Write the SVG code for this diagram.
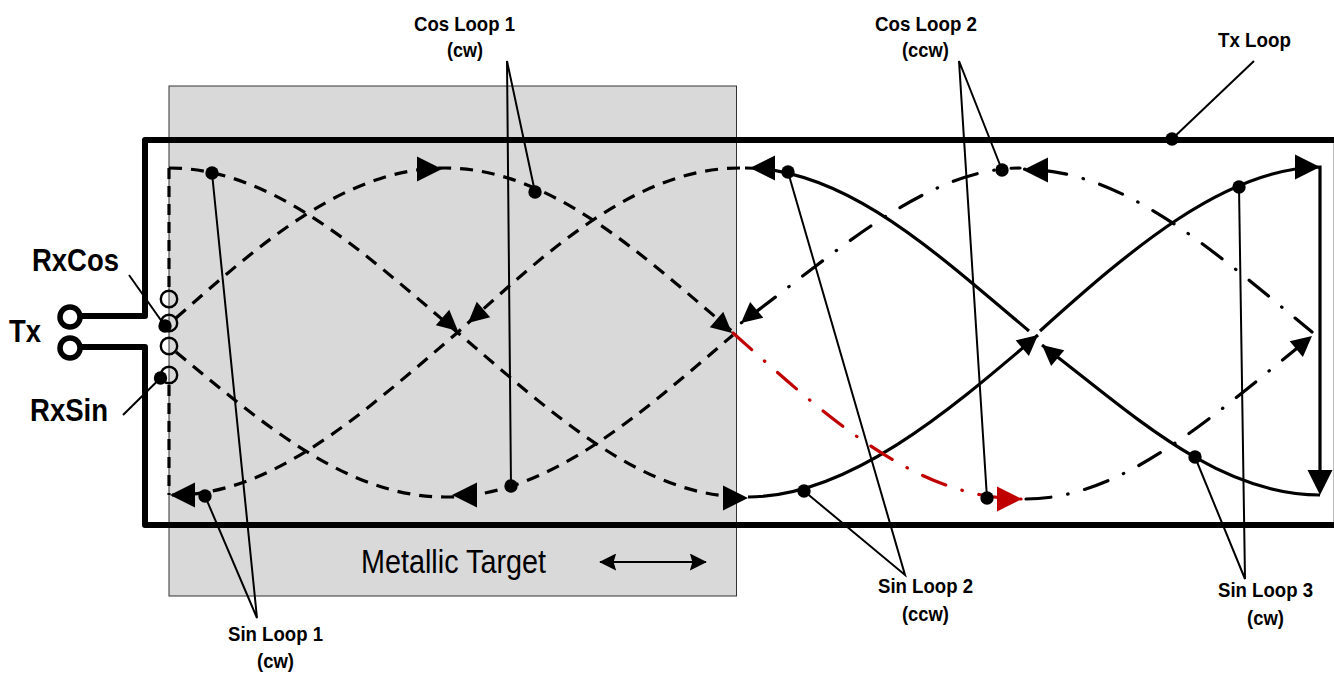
<svg xmlns="http://www.w3.org/2000/svg" xmlns:xlink="http://www.w3.org/1999/xlink" width="1334" height="673" viewBox="0 0 1334 673">
<style>
text{font-family:"Liberation Sans",Arial,sans-serif;fill:#000}
.lb{font-weight:bold;font-size:21px}
.big{font-weight:bold;font-size:32px}
.c{fill:none;stroke:#000;stroke-width:3.2}
.d{stroke-dasharray:13 9}
.dv{stroke-dasharray:11 7}
.dd{stroke-dasharray:25 17 .5 17;stroke-linecap:round}
.r{stroke:#c00000}
.t{fill:none;stroke:#000;stroke-width:6;stroke-linejoin:round}
.l{fill:none;stroke:#000;stroke-width:2}
.o{fill:none;stroke:#000;stroke-width:2.4}
</style>
<defs>
<polygon id="ah" points="0,0 -25,-12.5 -25,12.5"/>
<circle id="dot" r="6.700"/>
<marker id="sm" viewBox="0 0 10 10" refX="9.500" refY="5" markerWidth="8.500" markerHeight="8.500" orient="auto-start-reverse"><path d="M0,0 10,5 0,10 1.500,5z"/></marker>
</defs>
<g id="metallic-target">
<rect x="169" y="86" width="567.500" height="510" fill="#d9d9d9" stroke="#333" stroke-width="1"/>
<text x="361" y="573" font-size="33" textLength="185" lengthAdjust="spacingAndGlyphs">Metallic Target</text>
<line x1="600" y1="562" x2="706" y2="562" stroke="#000" stroke-width="2" marker-start="url(#sm)" marker-end="url(#sm)"/>
</g>
<g id="connectors">
<path class="c dv" d="M169,168V288M169,385V495"/>
<path class="c d" d="M169,168C273,168 363,252 457,332C551,412 641,497 745,497"/>
<path class="c d" d="M740,168C636,168 546,252 457,333C363,413 273,496 172,495"/>
<path class="c d" d="M176,318C259,245 345,168 445,168C549,168 639,252 733,332"/>
<path class="c d" d="M176,352C259,420 345,497 445,497C549,497 639,415 733,335"/>
<path class="c" d="M745,168C845,168 935,252 1029,331"/>
<path class="c" d="M1040,331C1130,250 1225,168 1320,167V480"/>
<path class="c" d="M1320,495C1216,495 1130,412 1042,345"/>
<path class="c" d="M748,497C849,497 950,410 1038,335"/>
<path class="c dd" style="stroke-dashoffset:-18" d="M741,323C830,258 925,168 1020,168"/>
<path class="c dd" style="stroke-dashoffset:-22" d="M1020,169C1124,168 1214,252 1312,332"/>
<path class="c dd r" d="M733,333C825,415 915,499 1022,499"/>
<path class="c dd" d="M1026,499C1124,499 1214,415 1312,336"/>
<line x1="1333.500" y1="140" x2="1333.500" y2="525" stroke="#bbb" stroke-width="1"/>
<use xlink:href="#ah" href="#ah" transform="translate(170,495) rotate(180)"/>
<use xlink:href="#ah" href="#ah" transform="translate(442,169)"/>
<use xlink:href="#ah" href="#ah" transform="translate(458,331) rotate(41) scale(.82)"/>
<use xlink:href="#ah" href="#ah" transform="translate(468,323) rotate(139) scale(.82)"/>
<use xlink:href="#ah" href="#ah" transform="translate(732,333) rotate(41) scale(.82)"/>
<use xlink:href="#ah" href="#ah" transform="translate(748,498)"/>
<use xlink:href="#ah" href="#ah" transform="translate(452,495) rotate(180)"/>
<use xlink:href="#ah" href="#ah" transform="translate(750,168) rotate(180)"/>
<use xlink:href="#ah" href="#ah" transform="translate(741,323) rotate(140) scale(.82)"/>
<use xlink:href="#ah" href="#ah" transform="translate(1023,170) rotate(180)"/>
<use xlink:href="#ah" href="#ah" fill="#c00000" transform="translate(1022,499)"/>
<use xlink:href="#ah" href="#ah" transform="translate(1320,167)"/>
<use xlink:href="#ah" href="#ah" transform="translate(1320,495) rotate(90)"/>
<use xlink:href="#ah" href="#ah" transform="translate(1038,335) rotate(-40) scale(.82)"/>
<use xlink:href="#ah" href="#ah" transform="translate(1042,345) rotate(-140) scale(.82)"/>
<use xlink:href="#ah" href="#ah" transform="translate(1312,336) rotate(-40) scale(.82)"/>
</g>
<g id="tx-loop">
<path class="t" d="M80,316H145V140H1334M80,347H145V525H1334"/>
<circle cx="70" cy="317" r="10" fill="#fff" stroke="#000" stroke-width="5.500"/>
<circle cx="70" cy="348" r="10" fill="#fff" stroke="#000" stroke-width="5.500"/>
<text class="big" x="9" y="342" textLength="32" lengthAdjust="spacingAndGlyphs">Tx</text>
</g>
<g id="rx-terminals">
<circle class="o" cx="169" cy="299" r="8.200"/>
<circle class="o" cx="169" cy="323" r="8.200"/>
<circle class="o" cx="169" cy="346" r="8.200"/>
<circle class="o" cx="169" cy="375" r="8.200"/>
</g>
<g id="rxcos-label">
<text class="big" x="32" y="271" textLength="87" lengthAdjust="spacingAndGlyphs">RxCos</text>
<line class="l" x1="129" y1="275" x2="165" y2="326"/><use xlink:href="#dot" href="#dot" x="165" y="326"/>
</g>
<g id="rxsin-label">
<text class="big" x="30" y="421" textLength="78" lengthAdjust="spacingAndGlyphs">RxSin</text>
<line class="l" x1="123" y1="415" x2="160.500" y2="378"/><use xlink:href="#dot" href="#dot" x="160.500" y="378"/>
</g>
<g id="cos-loop-1">
<text class="lb" x="414" y="31" textLength="101" lengthAdjust="spacingAndGlyphs">Cos Loop 1</text><text class="lb" x="447" y="57" textLength="36" lengthAdjust="spacingAndGlyphs">(cw)</text>
<path class="l" d="M535,192L507,61L511,486"/><use xlink:href="#dot" href="#dot" x="535" y="192"/><use xlink:href="#dot" href="#dot" x="511" y="486"/>
</g>
<g id="cos-loop-2">
<text class="lb" x="875" y="31" textLength="102" lengthAdjust="spacingAndGlyphs">Cos Loop 2</text><text class="lb" x="902" y="57" textLength="47" lengthAdjust="spacingAndGlyphs">(ccw)</text>
<path class="l" d="M1002,170L959,61L987,498"/><use xlink:href="#dot" href="#dot" x="1002" y="170"/><use xlink:href="#dot" href="#dot" x="987" y="498"/>
</g>
<g id="tx-loop-label">
<text class="lb" x="1218" y="47" textLength="73" lengthAdjust="spacingAndGlyphs">Tx Loop</text>
<line class="l" x1="1254" y1="61" x2="1172" y2="139"/><use xlink:href="#dot" href="#dot" x="1172" y="139"/>
</g>
<g id="sin-loop-1">
<text class="lb" x="228" y="641" textLength="95" lengthAdjust="spacingAndGlyphs">Sin Loop 1</text><text class="lb" x="257" y="668" textLength="37" lengthAdjust="spacingAndGlyphs">(cw)</text>
<path class="l" d="M212,173L257,618L205,496"/><use xlink:href="#dot" href="#dot" x="212" y="173"/><use xlink:href="#dot" href="#dot" x="205" y="496"/>
</g>
<g id="sin-loop-2">
<text class="lb" x="878" y="593" textLength="95" lengthAdjust="spacingAndGlyphs">Sin Loop 2</text><text class="lb" x="902" y="621" textLength="47" lengthAdjust="spacingAndGlyphs">(ccw)</text>
<path class="l" d="M788,172L905,575L804,491"/><use xlink:href="#dot" href="#dot" x="788" y="172"/><use xlink:href="#dot" href="#dot" x="804" y="491"/>
</g>
<g id="sin-loop-3">
<text class="lb" x="1218" y="597" textLength="95" lengthAdjust="spacingAndGlyphs">Sin Loop 3</text><text class="lb" x="1247" y="625" textLength="37" lengthAdjust="spacingAndGlyphs">(cw)</text>
<path class="l" d="M1239,187L1245,579L1195,457"/><use xlink:href="#dot" href="#dot" x="1239" y="187"/><use xlink:href="#dot" href="#dot" x="1195" y="457"/>
</g>
</svg>
